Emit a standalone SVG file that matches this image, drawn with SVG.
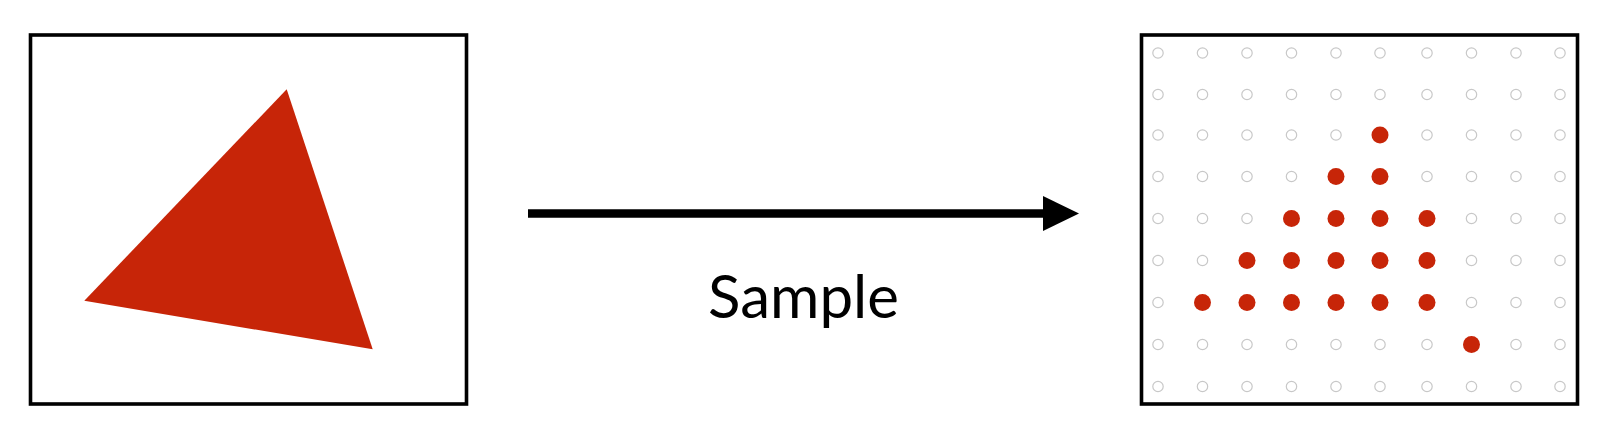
<svg xmlns="http://www.w3.org/2000/svg" width="1602" height="441" viewBox="0 0 1602 441">
<style>
.frame{fill:#fff;stroke:#000;stroke-width:3.6}
.o{fill:none;stroke:#c8c8c8;stroke-width:1.2}
.f{fill:#c72508}
.lbl{font-family:"Lato","Open Sans",sans-serif;font-size:60px;fill:#000}
</style>
<rect width="1602" height="441" fill="#fff"/>
<g id="input">
<rect class="frame" x="30.5" y="35" width="436" height="369"/>
<polygon class="f" points="286.7,89.3 84.3,300.7 372.7,349.3"/>
</g>
<g id="connectors">
<line x1="528" y1="213.5" x2="1045" y2="213.5" stroke="#000" stroke-width="8.5"/>
<polygon points="1043,196 1079,213.5 1043,231" fill="#000"/>
<text class="lbl" x="803.5" y="317.5" text-anchor="middle" textLength="191" lengthAdjust="spacing">Sample</text>
</g>
<g id="output">
<rect class="frame" x="1141.5" y="35" width="436" height="369"/>
<g id="grid">
<!-- row 0 -->
<circle class="o" cx="1158" cy="53" r="5.2"/><circle class="o" cx="1202.5" cy="53" r="5.2"/><circle class="o" cx="1247" cy="53" r="5.2"/><circle class="o" cx="1291.5" cy="53" r="5.2"/><circle class="o" cx="1336" cy="53" r="5.2"/><circle class="o" cx="1380" cy="53" r="5.2"/><circle class="o" cx="1427" cy="53" r="5.2"/><circle class="o" cx="1471.5" cy="53" r="5.2"/><circle class="o" cx="1516" cy="53" r="5.2"/><circle class="o" cx="1560" cy="53" r="5.2"/>
<!-- row 1 -->
<circle class="o" cx="1158" cy="94.5" r="5.2"/><circle class="o" cx="1202.5" cy="94.5" r="5.2"/><circle class="o" cx="1247" cy="94.5" r="5.2"/><circle class="o" cx="1291.5" cy="94.5" r="5.2"/><circle class="o" cx="1336" cy="94.5" r="5.2"/><circle class="o" cx="1380" cy="94.5" r="5.2"/><circle class="o" cx="1427" cy="94.5" r="5.2"/><circle class="o" cx="1471.5" cy="94.5" r="5.2"/><circle class="o" cx="1516" cy="94.5" r="5.2"/><circle class="o" cx="1560" cy="94.5" r="5.2"/>
<!-- row 2 -->
<circle class="o" cx="1158" cy="135" r="5.2"/><circle class="o" cx="1202.5" cy="135" r="5.2"/><circle class="o" cx="1247" cy="135" r="5.2"/><circle class="o" cx="1291.5" cy="135" r="5.2"/><circle class="o" cx="1336" cy="135" r="5.2"/><circle class="f" cx="1380" cy="135" r="8.5"/><circle class="o" cx="1427" cy="135" r="5.2"/><circle class="o" cx="1471.5" cy="135" r="5.2"/><circle class="o" cx="1516" cy="135" r="5.2"/><circle class="o" cx="1560" cy="135" r="5.2"/>
<!-- row 3 -->
<circle class="o" cx="1158" cy="176.5" r="5.2"/><circle class="o" cx="1202.5" cy="176.5" r="5.2"/><circle class="o" cx="1247" cy="176.5" r="5.2"/><circle class="o" cx="1291.5" cy="176.5" r="5.2"/><circle class="f" cx="1336" cy="176.5" r="8.5"/><circle class="f" cx="1380" cy="176.5" r="8.5"/><circle class="o" cx="1427" cy="176.5" r="5.2"/><circle class="o" cx="1471.5" cy="176.5" r="5.2"/><circle class="o" cx="1516" cy="176.5" r="5.2"/><circle class="o" cx="1560" cy="176.5" r="5.2"/>
<!-- row 4 -->
<circle class="o" cx="1158" cy="218.5" r="5.2"/><circle class="o" cx="1202.5" cy="218.5" r="5.2"/><circle class="o" cx="1247" cy="218.5" r="5.2"/><circle class="f" cx="1291.5" cy="218.5" r="8.5"/><circle class="f" cx="1336" cy="218.5" r="8.5"/><circle class="f" cx="1380" cy="218.5" r="8.5"/><circle class="f" cx="1427" cy="218.5" r="8.5"/><circle class="o" cx="1471.5" cy="218.5" r="5.2"/><circle class="o" cx="1516" cy="218.5" r="5.2"/><circle class="o" cx="1560" cy="218.5" r="5.2"/>
<!-- row 5 -->
<circle class="o" cx="1158" cy="260.5" r="5.2"/><circle class="o" cx="1202.5" cy="260.5" r="5.2"/><circle class="f" cx="1247" cy="260.5" r="8.5"/><circle class="f" cx="1291.5" cy="260.5" r="8.5"/><circle class="f" cx="1336" cy="260.5" r="8.5"/><circle class="f" cx="1380" cy="260.5" r="8.5"/><circle class="f" cx="1427" cy="260.5" r="8.5"/><circle class="o" cx="1471.5" cy="260.5" r="5.2"/><circle class="o" cx="1516" cy="260.5" r="5.2"/><circle class="o" cx="1560" cy="260.5" r="5.2"/>
<!-- row 6 -->
<circle class="o" cx="1158" cy="302.5" r="5.2"/><circle class="f" cx="1202.5" cy="302.5" r="8.5"/><circle class="f" cx="1247" cy="302.5" r="8.5"/><circle class="f" cx="1291.5" cy="302.5" r="8.5"/><circle class="f" cx="1336" cy="302.5" r="8.5"/><circle class="f" cx="1380" cy="302.5" r="8.5"/><circle class="f" cx="1427" cy="302.5" r="8.5"/><circle class="o" cx="1471.5" cy="302.5" r="5.2"/><circle class="o" cx="1516" cy="302.5" r="5.2"/><circle class="o" cx="1560" cy="302.5" r="5.2"/>
<!-- row 7 -->
<circle class="o" cx="1158" cy="344.5" r="5.2"/><circle class="o" cx="1202.5" cy="344.5" r="5.2"/><circle class="o" cx="1247" cy="344.5" r="5.2"/><circle class="o" cx="1291.5" cy="344.5" r="5.2"/><circle class="o" cx="1336" cy="344.5" r="5.2"/><circle class="o" cx="1380" cy="344.5" r="5.2"/><circle class="o" cx="1427" cy="344.5" r="5.2"/><circle class="f" cx="1471.5" cy="344.5" r="8.5"/><circle class="o" cx="1516" cy="344.5" r="5.2"/><circle class="o" cx="1560" cy="344.5" r="5.2"/>
<!-- row 8 -->
<circle class="o" cx="1158" cy="386.5" r="5.2"/><circle class="o" cx="1202.5" cy="386.5" r="5.2"/><circle class="o" cx="1247" cy="386.5" r="5.2"/><circle class="o" cx="1291.5" cy="386.5" r="5.2"/><circle class="o" cx="1336" cy="386.5" r="5.2"/><circle class="o" cx="1380" cy="386.5" r="5.2"/><circle class="o" cx="1427" cy="386.5" r="5.2"/><circle class="o" cx="1471.5" cy="386.5" r="5.2"/><circle class="o" cx="1516" cy="386.5" r="5.2"/><circle class="o" cx="1560" cy="386.5" r="5.2"/>
</g>
</g>
</svg>
